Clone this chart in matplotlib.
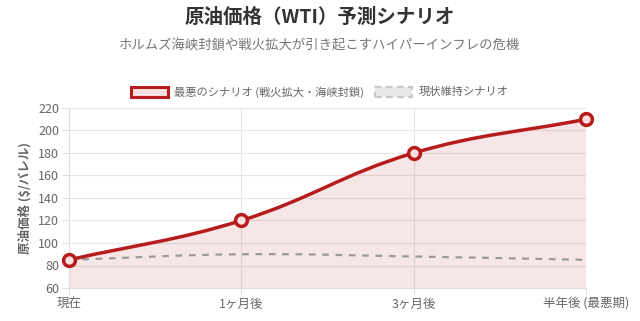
import numpy as np
import matplotlib
matplotlib.use("Agg")
import matplotlib.pyplot as plt
from matplotlib.path import Path
from matplotlib.patches import PathPatch, Rectangle

plt.rcParams['font.family'] = ['Noto Sans CJK JP', 'DejaVu Sans']

categories = ['現在', '1ヶ月後', '3ヶ月後', '半年後 (最悪期)']
worst = [85, 120, 180, 210]
status_quo = [85, 90, 88, 85]
yticks = [60, 80, 100, 120, 140, 160, 180, 200, 220]

RED = '#b71c1c'
GRAY = '#9a9a9a'

fig = plt.figure(figsize=(6.4, 3.21), dpi=100)
L, R, T, B = 69/640, 586/640, 108/321, 288/321
ax = fig.add_axes([L, 1-B, R-L, B-T])
ax.set_xlim(0, len(categories)-1)
ax.set_ylim(60, 220)

def bezier_path(ys, tension=0.4):
    # Chart.js style spline, computed in pixel space
    xs = np.arange(len(ys), dtype=float)
    sx = (R-L)*640/(len(ys)-1)
    sy = (B-T)*321/160.0
    px = xs*sx
    py = np.array(ys, float)*sy
    n = len(ys)
    cps = []
    for i in range(n):
        p0 = (px[max(i-1, 0)], py[max(i-1, 0)])
        p1 = (px[i], py[i])
        p2 = (px[min(i+1, n-1)], py[min(i+1, n-1)])
        d01 = np.hypot(p1[0]-p0[0], p1[1]-p0[1])
        d12 = np.hypot(p2[0]-p1[0], p2[1]-p1[1])
        s01 = d01/(d01+d12) if d01+d12 else 0
        s12 = d12/(d01+d12) if d01+d12 else 0
        fa, fb = tension*s01, tension*s12
        prev = (p1[0]-fa*(p2[0]-p0[0]), p1[1]-fa*(p2[1]-p0[1]))
        nxt = (p1[0]+fb*(p2[0]-p0[0]), p1[1]+fb*(p2[1]-p0[1]))
        cps.append((prev, nxt))
    verts = [(px[0]/sx, py[0]/sy)]
    codes = [Path.MOVETO]
    for i in range(n-1):
        a = cps[i][1]; b = cps[i+1][0]
        verts += [(a[0]/sx, a[1]/sy), (b[0]/sx, b[1]/sy), (px[i+1]/sx, py[i+1]/sy)]
        codes += [Path.CURVE4]*3
    return verts, codes

# grid
for y in yticks:
    ax.axhline(y, color='#e6e6e6', lw=0.8, zorder=0)
for i in range(len(categories)):
    ax.axvline(i, color='#e6e6e6', lw=0.8, zorder=0)

# worst fill + line
v, c = bezier_path(worst)
fv = v + [(len(worst)-1, 60), (0, 60), v[0]]
fc = c + [Path.LINETO, Path.LINETO, Path.CLOSEPOLY]
ax.add_patch(PathPatch(Path(fv, fc), facecolor=(183/255, 28/255, 28/255, 0.11), edgecolor='none', zorder=1))
ax.add_patch(PathPatch(Path(v, c), facecolor='none', edgecolor=RED, lw=2.5, zorder=3, capstyle='round'))

# status quo dashed
v2, c2 = bezier_path(status_quo)
ax.add_patch(PathPatch(Path(v2, c2), facecolor='none', edgecolor=GRAY, lw=1.6, ls=(0, (3, 3)), zorder=2))

ax.plot(range(len(worst)), worst, 'o', ms=8.5, mfc=(0.98, 0.88, 0.88), mec=RED, mew=2.5, zorder=4, clip_on=False)

ax.set_xticks(range(len(categories)))
ax.set_xticklabels(categories, fontsize=9, color='#666666')
ax.set_yticks(yticks)
ax.set_yticklabels([str(t) for t in yticks], fontsize=9, color='#666666')
ax.tick_params(axis='both', length=5, color='#e0e0e0', width=0.8, pad=2)
for s in ['top', 'right']:
    ax.spines[s].set_visible(False)
for s in ['left', 'bottom']:
    ax.spines[s].set_color('#dddddd')
    ax.spines[s].set_linewidth(0.8)
ax.set_ylabel('原油価格 ($/バレル)', fontsize=9, color='#666666', fontweight='bold', labelpad=5)

fig.text(0.5, 1-17/321, '原油価格（WTI）予測シナリオ', ha='center', va='center', fontsize=14, fontweight='bold', color='#333333')
fig.text(0.5, 1-46/321, 'ホルムズ海峡封鎖や戦火拡大が引き起こすハイパーインフレの危機', ha='center', va='center', fontsize=9.6, color='#777777')

# legend
ly = 1-92/321
h = 10/321
fig.patches.append(Rectangle((131/640, ly-h/2), 37/640, h, transform=fig.transFigure, facecolor=(0.98, 0.88, 0.89), edgecolor=RED, lw=2.2))
fig.text(174/640, ly, '最悪のシナリオ (戦火拡大・海峡封鎖)', ha='left', va='center', fontsize=8.1, color='#666666')
fig.patches.append(Rectangle((375/640, ly-h/2), 37/640, h, transform=fig.transFigure, facecolor='#e8e8e8', edgecolor='#c8c8c8', lw=1.6, ls=(0, (3, 2))))
fig.text(419/640, ly, '現状維持シナリオ', ha='left', va='center', fontsize=8.1, color='#666666')

fig.savefig('out.png', dpi=100)
